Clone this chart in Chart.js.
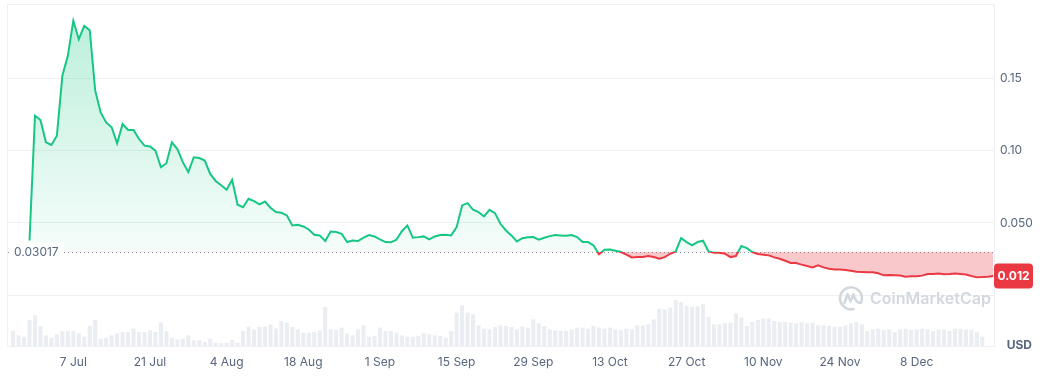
<!DOCTYPE html>
<html><head><meta charset="utf-8">
<script src="https://cdn.jsdelivr.net/npm/chart.js@4"></script>
<style>html,body{margin:0;padding:0;background:#fff;} #wrap{width:1042px;height:380px;position:relative;}</style>
</head><body><div id="wrap"><canvas id="c"></canvas></div>
<script>
// ---- data (days counted from 7 Jul) ----
const xTickDays = [0, 14, 28, 42, 56, 70, 84, 98, 112, 126, 140, 154];
const xTickLabels = ['7 Jul', '21 Jul', '4 Aug', '18 Aug', '1 Sep', '15 Sep', '29 Sep', '13 Oct', '27 Oct', '10 Nov', '24 Nov', '8 Dec'];
const yTickValues = [0, 0.05, 0.10, 0.15];
const yTickLabels = ['', '0.050', '0.10', '0.15'];

const priceStartDay = -8;
const prices = [
  0.0379, 0.1241, 0.1211, 0.1057, 0.1039, 0.1103, 0.1517, 0.1655, 0.1897, 0.1770,
  0.1862, 0.1832, 0.1414, 0.1264, 0.1195, 0.1161, 0.1050, 0.1184, 0.1143, 0.1143,
  0.1080, 0.1034, 0.1028, 0.1000, 0.0885, 0.0913, 0.1057, 0.1011, 0.0920, 0.0851,
  0.0954, 0.0949, 0.0931, 0.0839, 0.0790, 0.0760, 0.0729, 0.0798, 0.0626, 0.0609,
  0.0667, 0.0651, 0.0628, 0.0648, 0.0605, 0.0575, 0.0570, 0.0552, 0.0483, 0.0487,
  0.0476, 0.0455, 0.0418, 0.0414, 0.0375, 0.0441, 0.0437, 0.0425, 0.0368, 0.0379,
  0.0375, 0.0398, 0.0416, 0.0407, 0.0386, 0.0368, 0.0366, 0.0384, 0.0443, 0.0483,
  0.0398, 0.0402, 0.0407, 0.0386, 0.0407, 0.0416, 0.0419, 0.0414, 0.0471, 0.0621,
  0.0637, 0.0591, 0.0575, 0.0545, 0.0591, 0.0568, 0.0494, 0.0448, 0.0414, 0.0372,
  0.0395, 0.0401, 0.0402, 0.0384, 0.0398, 0.0409, 0.0416, 0.0414, 0.0412, 0.0416,
  0.0402, 0.0368, 0.0368, 0.0345, 0.0283, 0.0315, 0.0317, 0.0308, 0.0299, 0.0281,
  0.0262, 0.0264, 0.0264, 0.0271, 0.0264, 0.0253, 0.0264, 0.0287, 0.0303, 0.0395,
  0.0368, 0.0345, 0.0368, 0.0377, 0.0303, 0.0294, 0.0294, 0.0287, 0.0264, 0.0271,
  0.0340, 0.0326, 0.0299, 0.0285, 0.0281, 0.0276, 0.0262, 0.0253, 0.0239, 0.0223,
  0.0223, 0.0212, 0.0202, 0.0193, 0.0207, 0.0193, 0.0184, 0.0179, 0.0179, 0.0175,
  0.0170, 0.0163, 0.0161, 0.0159, 0.0159, 0.0152, 0.0138, 0.0140, 0.0138, 0.0136,
  0.0129, 0.0131, 0.0131, 0.0136, 0.0147, 0.0147, 0.0150, 0.0145, 0.0147, 0.0150,
  0.0147, 0.0143, 0.0133, 0.0124, 0.0126, 0.0129, 0.0133
];

const volumeStartDay = -11;
const volumes = [
  45, 32, 28, 78, 92, 60, 32, 25, 35, 45,
  45, 45, 38, 28, 60, 78, 22, 25, 32, 38,
  42, 42, 52, 42, 42, 47, 42, 70, 45, 25,
  20, 22, 32, 17, 17, 12, 22, 10, 8, 10,
  18, 10, 45, 58, 50, 57, 58, 65, 53, 75,
  70, 57, 50, 40, 40, 42, 47, 117, 50, 48,
  55, 38, 32, 50, 62, 28, 30, 55, 45, 45,
  40, 32, 28, 28, 30, 38, 35, 32, 30, 25,
  45, 100, 122, 100, 95, 62, 52, 50, 57, 62,
  60, 57, 50, 58, 55, 80, 68, 60, 50, 47,
  45, 45, 50, 55, 55, 52, 60, 55, 52, 55,
  50, 47, 52, 50, 62, 62, 65, 80, 112, 110,
  115, 138, 132, 120, 118, 120, 125, 88, 65, 65,
  68, 70, 98, 85, 60, 72, 78, 82, 82, 75,
  72, 72, 70, 68, 72, 68, 70, 62, 62, 60,
  58, 58, 62, 68, 72, 65, 45, 50, 52, 48,
  50, 42, 50, 52, 48, 50, 52, 50, 45, 50,
  50, 45, 52, 52, 50, 48, 42, 28
];

const baselinePrice = 0.03017;
const baselineLabel = '0.03017';
const currentPriceLabel = '0.012';
const currencyLabel = 'USD';
const watermarkText = 'CoinMarketCap';

// ---- styling ----
const GREEN = '#16c784', RED = '#ea3943';
const TEXT = '#58667e', GRID = '#eef0f3';
Chart.defaults.font.family = 'Inter, "Noto Sans", sans-serif';
Chart.defaults.font.size = 12;

const priceData = prices.map((v, i) => ({ x: priceStartDay + i, y: v }));
const volumeData = volumes.map((v, i) => ({ x: volumeStartDay + i, y: v }));

function baseY(chart) { return chart.scales.y.getPixelForValue(baselinePrice); }
function noPad(s) { s.paddingTop = 0; s.paddingBottom = 0; s.paddingLeft = 0; s.paddingRight = 0; }

const decor = {
  id: 'decor',
  beforeDatasetsDraw(chart) {
    const { ctx, chartArea: a } = chart;
    ctx.save();
    // frame
    ctx.strokeStyle = GRID; ctx.lineWidth = 1;
    ctx.strokeRect(Math.round(a.left) + 0.5, Math.round(a.top) + 0.5, Math.round(a.right - a.left), Math.round(a.bottom - a.top));
    // watermark
    const wc = '#d3d8df';
    const cx = a.right - 143, cy = chart.scales.y.getPixelForValue(0) + 3;
    ctx.strokeStyle = wc; ctx.lineWidth = 2.6; ctx.lineCap = 'round'; ctx.lineJoin = 'round';
    ctx.beginPath(); ctx.arc(cx, cy, 11, 0.42 * Math.PI, 2.08 * Math.PI); ctx.stroke();
    ctx.beginPath();
    ctx.moveTo(cx - 6.5, cy + 4.5); ctx.lineTo(cx - 3.5, cy - 4); ctx.lineTo(cx - 0.5, cy + 3);
    ctx.lineTo(cx + 2.5, cy - 4); ctx.quadraticCurveTo(cx + 4.5, cy + 5, cx + 10, cy + 4.5);
    ctx.stroke();
    ctx.fillStyle = wc; ctx.font = '600 16px Inter, sans-serif';
    ctx.textAlign = 'left'; ctx.textBaseline = 'middle';
    ctx.fillText(watermarkText, cx + 19, cy + 1);
    // dotted baseline
    const y = Math.round(baseY(chart)) + 0.5;
    ctx.strokeStyle = '#8c93a6'; ctx.lineWidth = 1; ctx.lineCap = 'butt';
    ctx.setLineDash([1, 3]);
    ctx.beginPath(); ctx.moveTo(a.left + 1, y); ctx.lineTo(a.right, y); ctx.stroke();
    ctx.restore();
  },
  afterDatasetsDraw(chart) {
    const { ctx, chartArea: a } = chart;
    ctx.save();
    // baseline label
    const y = baseY(chart);
    ctx.font = '12px Inter, sans-serif';
    const w = ctx.measureText(baselineLabel).width;
    ctx.fillStyle = '#fff';
    ctx.fillRect(a.left + 4, y - 9, w + 8, 18);
    ctx.fillStyle = TEXT; ctx.textAlign = 'left'; ctx.textBaseline = 'middle';
    ctx.fillText(baselineLabel, a.left + 7, y + 0.5);
    // current price tag
    const last = prices[prices.length - 1];
    const py = chart.scales.y.getPixelForValue(last);
    const bx = a.right, bw = 39, bh = 25;
    ctx.fillStyle = RED;
    ctx.beginPath(); ctx.roundRect(bx, py - bh / 2, bw, bh, 4); ctx.fill();
    ctx.fillStyle = '#fff'; ctx.font = 'bold 12px Inter, sans-serif'; ctx.textAlign = 'center';
    ctx.fillText(currentPriceLabel, bx + bw / 2, py + 0.5);
    // currency
    ctx.fillStyle = TEXT; ctx.font = 'bold 12px Inter, sans-serif'; ctx.textAlign = 'right';
    ctx.fillText(currencyLabel, chart.width - 10, a.bottom - 1);
    ctx.restore();
  }
};

new Chart(document.getElementById('c'), {
  type: 'line',
  data: {
    datasets: [
      {
        type: 'line', data: priceData, yAxisID: 'y', order: 0,
        borderWidth: 2, pointRadius: 0, tension: 0,
        borderColor(ctx) {
          const { chart } = ctx; const a = chart.chartArea;
          if (!a) return GREEN;
          const r = Math.min(1, Math.max(0, (baseY(chart) - a.top) / (a.bottom - a.top)));
          const g = chart.ctx.createLinearGradient(0, a.top, 0, a.bottom);
          g.addColorStop(0, GREEN); g.addColorStop(r, GREEN); g.addColorStop(r, RED); g.addColorStop(1, RED);
          return g;
        },
        backgroundColor(ctx) {
          const { chart } = ctx; const a = chart.chartArea;
          if (!a) return 'rgba(22,199,132,0.15)';
          const g = chart.ctx.createLinearGradient(0, a.top, 0, baseY(chart));
          g.addColorStop(0, 'rgba(22,199,132,0.30)');
          g.addColorStop(1, 'rgba(22,199,132,0.04)');
          return g;
        },
        fill: { target: { value: baselinePrice }, below: 'rgba(234,57,67,0.28)' }
      },
      {
        type: 'bar', data: volumeData, yAxisID: 'yv', order: 1,
        backgroundColor: '#eaedf1', barPercentage: 1, categoryPercentage: 0.74
      }
    ]
  },
  options: {
    responsive: true, maintainAspectRatio: false, animation: false,
    layout: { padding: { left: 7, top: 4, right: 0, bottom: 0 } },
    plugins: { legend: { display: false }, tooltip: { enabled: false } },
    scales: {
      x: {
        type: 'linear', min: -12.11, max: 168.13, offset: false, bounds: 'data',
        grid: { display: false, drawTicks: false, offset: false }, border: { display: false },
        afterBuildTicks: ax => { ax.ticks = xTickDays.map(v => ({ value: v })); },
        ticks: { autoSkip: false, maxRotation: 0, padding: 9, color: TEXT, callback: (v, i) => xTickLabels[i] },
        afterFit: s => { s.height = 34; noPad(s); }
      },
      y: {
        type: 'linear', position: 'right', min: -0.03504, max: 0.20131,
        grid: { color: GRID, drawTicks: false }, border: { display: false },
        afterBuildTicks: ax => { ax.ticks = yTickValues.map(v => ({ value: v })); },
        ticks: { padding: 6, color: TEXT, callback: (v, i) => yTickLabels[i] },
        afterFit: s => { s.width = 48; noPad(s); }
      },
      yv: { display: false, min: 0, max: 1026 }
    }
  },
  plugins: [decor]
});
</script>
</body></html>
